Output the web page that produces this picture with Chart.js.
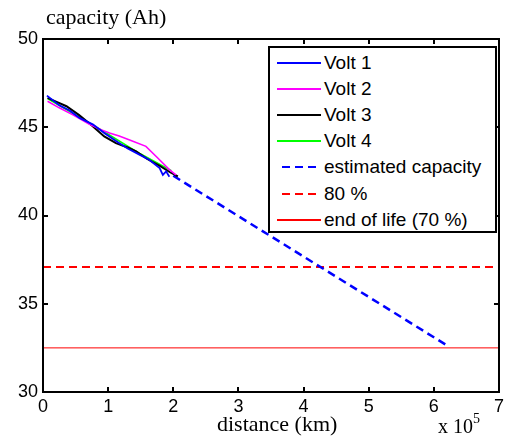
<!DOCTYPE html>
<html>
<head>
<meta charset="utf-8">
<script src="https://cdn.jsdelivr.net/npm/chart.js@4/dist/chart.umd.min.js"></script>
<style>
  html, body { margin: 0; padding: 0; background: #fff; }
  #wrap { position: relative; width: 508px; height: 436px; overflow: hidden; }
  canvas { position: absolute; left: 0; top: 0; }
  .serif { position: absolute; font-family: "Liberation Serif", "Times New Roman", serif; color: #000; white-space: nowrap; }
  #legend { position: absolute; left: 268px; top: 46px; width: 225px; height: 183px; border: 2px solid #000; background: #fff; }
  .row { position: absolute; left: 0; height: 26px; display: flex; align-items: center; font-family: "Liberation Sans", Arial, sans-serif; font-size: 19px; color: #000; white-space: nowrap; }
  .row svg { margin-left: 7px; margin-right: 3px; }
</style>
</head>
<body>
<div id="wrap">
  <canvas id="c" width="508" height="436"></canvas>
  <div class="serif" id="ytitle" style="left:46px; top:4px; font-size:22px;">capacity (Ah)</div>
  <div class="serif" id="xtitle" style="left:217px; top:411px; font-size:22px;">distance (km)</div>
  <div class="serif" id="xexp" style="left:438px; top:413px; font-size:20px;">x 10<sup style="font-size:14px; position:relative; top:-2px;">5</sup></div>
  <div id="legend"></div>
</div>
<script>
// ---- data (distance in units of 10^5 km, capacity in Ah) ----
const xTickLabels = ["0","1","2","3","4","5","6","7"];
const yTickLabels = ["30","35","40","45","50"];

const volt1Dist = [0.06, 0.25, 0.41, 0.56, 0.77, 0.95, 1.15, 1.30, 1.48, 1.63, 1.79, 1.84, 1.89, 1.94];
const volt1Cap  = [46.79, 46.25, 45.95, 45.53, 45.15, 44.65, 44.15, 43.80, 43.45, 43.16, 42.69, 42.30, 42.50, 42.20];

const volt2Dist = [0.07, 0.25, 0.46, 0.70, 0.90, 1.02, 1.17, 1.35, 1.58, 1.75, 1.94, 2.04];
const volt2Cap  = [46.47, 46.10, 45.70, 45.20, 44.85, 44.68, 44.50, 44.25, 43.92, 43.30, 42.60, 42.30];

const volt3Dist = [0.07, 0.20, 0.36, 0.55, 0.75, 0.94, 1.12, 1.30, 1.43, 1.60, 1.80, 1.95, 2.07];
const volt3Cap  = [46.66, 46.45, 46.19, 45.70, 45.10, 44.48, 44.10, 43.85, 43.63, 43.20, 42.80, 42.45, 42.21];

const volt4Dist = [0.07, 0.60, 1.00, 1.50, 1.97];
const volt4Cap  = [46.62, 45.48, 44.60, 43.48, 42.54];

const estDist = [2.00, 6.24];
const estCap  = [42.25, 32.55];

const limitDist = [0, 7];
const cap80 = [37.08, 37.08];
const cap70 = [32.50, 32.50];

const seriesNames = ["Volt 1","Volt 2","Volt 3","Volt 4","estimated capacity","80 %","end of life (70 %)"];

function pts(xs, ys) { return xs.map((x, i) => ({ x: x, y: ys[i] })); }

const datasets = [
  { label: seriesNames[0], data: pts(volt1Dist, volt1Cap), borderColor: "#0000ff", borderWidth: 1.8 },
  { label: seriesNames[1], data: pts(volt2Dist, volt2Cap), borderColor: "#ff00ff", borderWidth: 1.6 },
  { label: seriesNames[2], data: pts(volt3Dist, volt3Cap), borderColor: "#000000", borderWidth: 2 },
  { label: seriesNames[3], data: pts(volt4Dist, volt4Cap), borderColor: "#00ff00", borderWidth: 1.6 },
  { label: seriesNames[4], data: pts(estDist, estCap), borderColor: "#0000ff", borderWidth: 2.5, borderDash: [8, 5] },
  { label: seriesNames[5], data: pts(limitDist, cap80), borderColor: "#ff0000", borderWidth: 2, borderDash: [8, 5] },
  { label: seriesNames[6], data: pts(limitDist, cap70), borderColor: "#ff0000", borderWidth: 1 }
].map(d => Object.assign({ showLine: true, pointRadius: 0, fill: false, tension: 0 }, d));

const frame = {
  id: "frame",
  afterDatasetsDraw(chart) {
    const { ctx, chartArea: { left, right, top, bottom }, scales: { x, y } } = chart;
    ctx.save();
    ctx.strokeStyle = "#000";
    ctx.lineWidth = 2;
    ctx.strokeRect(left, top, right - left, bottom - top);
    ctx.beginPath();
    x.ticks.forEach(t => {
      const px = Math.round(x.getPixelForValue(t.value));
      ctx.moveTo(px, bottom); ctx.lineTo(px, bottom - 5);
      ctx.moveTo(px, top); ctx.lineTo(px, top + 5);
    });
    y.ticks.forEach(t => {
      const py = Math.round(y.getPixelForValue(t.value));
      ctx.moveTo(left, py); ctx.lineTo(left + 5, py);
      ctx.moveTo(right, py); ctx.lineTo(right - 5, py);
    });
    ctx.stroke();
    ctx.restore();
  }
};

const tickFont = { family: "'Liberation Sans', Arial, sans-serif", size: 18 };

new Chart(document.getElementById("c"), {
  type: "scatter",
  data: { datasets: datasets },
  options: {
    responsive: false,
    animation: false,
    devicePixelRatio: 1,
    layout: { padding: { left: 0, top: 39, right: 8, bottom: 0 } },
    plugins: { legend: { display: false }, tooltip: { enabled: false } },
    scales: {
      x: {
        type: "linear", min: 0, max: 7,
        grid: { display: false, drawTicks: false },
        border: { display: false },
        ticks: { stepSize: 1, color: "#000", font: tickFont, padding: 4, maxRotation: 0,
                 callback: (v) => xTickLabels[v] },
        afterFit: (s) => { s.height = 44; }
      },
      y: {
        type: "linear", min: 30, max: 50,
        grid: { display: false, drawTicks: false },
        border: { display: false },
        ticks: { stepSize: 5, color: "#000", font: tickFont, padding: 5,
                 callback: (v) => yTickLabels[(v - 30) / 5] },
        afterFit: (s) => { s.width = 43; }
      }
    }
  },
  plugins: [frame]
});

// ---- legend built from the datasets ----
const legend = document.getElementById("legend");
datasets.forEach((d, i) => {
  const row = document.createElement("div");
  row.className = "row";
  row.style.top = (2 + i * 26.1) + "px";
  const dash = d.borderDash ? d.borderDash.join(",") : "none";
  const x1 = d.borderDash ? 5 : 0;
  row.innerHTML = '<svg width="44" height="6"><line x1="' + x1 + '" y1="3" x2="44" y2="3" stroke="' + d.borderColor +
    '" stroke-width="2" stroke-dasharray="' + dash + '"/></svg><span>' + d.label + '</span>';
  legend.appendChild(row);
});
</script>
</body>
</html>
